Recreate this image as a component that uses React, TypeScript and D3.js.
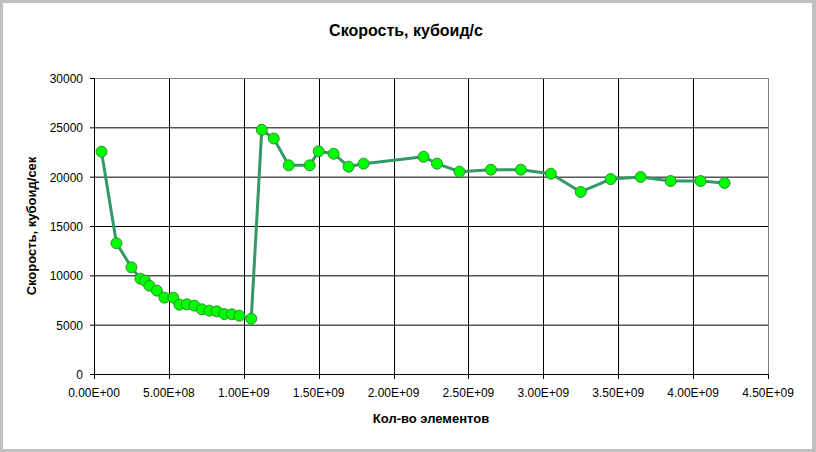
import React from "react";
import * as d3 from "d3";

const xValues = [0.05, 0.15, 0.25, 0.31, 0.34, 0.37, 0.42, 0.47, 0.53, 0.57, 0.62, 0.67, 0.72, 0.77, 0.82, 0.87, 0.92, 0.97, 1.05, 1.12, 1.2, 1.3, 1.44, 1.5, 1.6, 1.7, 1.8, 2.2, 2.29, 2.44, 2.65, 2.85, 3.05, 3.25, 3.45, 3.65, 3.85, 4.05, 4.21].map((v) => v * 1e9);
const speeds = [22530, 13250, 10810, 9660, 9460, 8950, 8450, 7740, 7740, 7030, 7060, 6930, 6560, 6420, 6350, 6080, 6050, 5910, 5610, 24750, 23870, 21150, 21150, 22570, 22330, 21010, 21320, 22020, 21320, 20510, 20710, 20710, 20300, 18450, 19760, 19970, 19560, 19560, 19360];
const xTicks = [0, 0.5e9, 1e9, 1.5e9, 2e9, 2.5e9, 3e9, 3.5e9, 4e9, 4.5e9];
const yTicks = [0, 5000, 10000, 15000, 20000, 25000, 30000];
const title = "Скорость, кубоид/с";
const xTitle = "Кол-во элементов";
const yTitle = "Скорость, кубоид/сек";

const W = 816, H = 452;
const L = 94, R = 768, T = 78, B = 374;
const FONT = "'Liberation Sans', Arial, sans-serif";

function fmtE(v: number) {
  if (v === 0) return "0.00E+00";
  const e = Math.floor(Math.log10(v) + 1e-9);
  const m = v / Math.pow(10, e);
  return `${m.toFixed(2)}E+${String(e).padStart(2, "0")}`;
}

export default function App() {
  const x = d3.scaleLinear().domain([0, 4.5e9]).range([L, R]);
  const y = d3.scaleLinear().domain([0, 30000]).range([B, T]);
  const pts = xValues.map((v, i) => [v, speeds[i]] as [number, number]);
  const line = d3.line<[number, number]>().x((d) => x(d[0])).y((d) => y(d[1]));
  return (
    <svg width={W} height={H} style={{ position: "absolute", left: 0, top: 0, display: "block" }}>
      <rect x={0} y={0} width={W} height={H} fill="#c0c0c0" />
      <rect x={3} y={3} width={809} height={446} fill="#ffffff" />
      <text x={406} y={36} textAnchor="middle" fontFamily={FONT} fontWeight="bold" fontSize={16} fill="#000">{title}</text>
      {yTicks.slice(1, -1).map((t) => (
        <line key={"gy" + t} x1={L} x2={R} y1={y(t) + 0.5} y2={y(t) + 0.5} stroke="#000" strokeWidth={1} />
      ))}
      {xTicks.slice(1, -1).map((t) => (
        <line key={"gx" + t} x1={Math.round(x(t)) + 0.5} x2={Math.round(x(t)) + 0.5} y1={T} y2={B} stroke="#000" strokeWidth={1} />
      ))}
      <line x1={L} x2={R + 0.5} y1={T + 0.5} y2={T + 0.5} stroke="#808080" />
      <line x1={R + 0.5} x2={R + 0.5} y1={T} y2={B} stroke="#808080" />
      <line x1={L + 0.5} x2={L + 0.5} y1={T} y2={B + 1} stroke="#000" />
      <line x1={L} x2={R + 1} y1={B + 0.5} y2={B + 0.5} stroke="#000" />
      {yTicks.map((t) => (
        <g key={"ty" + t}>
          <line x1={L - 4} x2={L} y1={y(t) + 0.5} y2={y(t) + 0.5} stroke="#000" />
          <text x={83} y={y(t) + 5} textAnchor="end" fontFamily={FONT} fontSize={12} fill="#000">{t}</text>
        </g>
      ))}
      {xTicks.map((t) => (
        <g key={"tx" + t}>
          <line x1={Math.round(x(t)) + 0.5} x2={Math.round(x(t)) + 0.5} y1={B} y2={B + 5} stroke="#000" />
          <text x={x(t)} y={397} textAnchor="middle" fontFamily={FONT} fontSize={12} fill="#000">{fmtE(t)}</text>
        </g>
      ))}
      <text x={431} y={423} textAnchor="middle" fontFamily={FONT} fontWeight="bold" fontSize={13} fill="#000">{xTitle}</text>
      <text transform={`translate(36,${(T + B) / 2}) rotate(-90)`} textAnchor="middle" fontFamily={FONT} fontWeight="bold" fontSize={13} fill="#000">{yTitle}</text>
      <path d={line(pts) || ""} fill="none" stroke="#339966" strokeWidth={3} strokeLinejoin="round" />
      {pts.map((d, i) => (
        <circle key={i} cx={x(d[0])} cy={y(d[1])} r={5.5} fill="#00ff00" stroke="#2f8f2f" strokeWidth={1} />
      ))}
    </svg>
  );
}
